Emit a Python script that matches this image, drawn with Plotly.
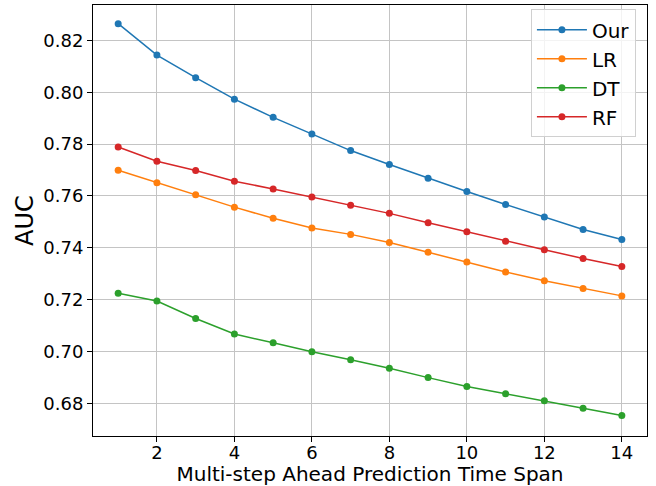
import plotly.graph_objects as go

steps = list(range(1, 15))
our = [0.8264, 0.8143, 0.8056, 0.7973, 0.7903, 0.7839, 0.7775, 0.7721, 0.7668, 0.7617, 0.7567, 0.7519, 0.7471, 0.7432]
lr = [0.7699, 0.7651, 0.7605, 0.7557, 0.7514, 0.7477, 0.7452, 0.7421, 0.7383, 0.7346, 0.7307, 0.7273, 0.7243, 0.7215]
dt = [0.7225, 0.7195, 0.7128, 0.7068, 0.7034, 0.7000, 0.6969, 0.6936, 0.6900, 0.6866, 0.6838, 0.6811, 0.6782, 0.6754]
rf = [0.7789, 0.7734, 0.7698, 0.7657, 0.7627, 0.7596, 0.7564, 0.7533, 0.7497, 0.7462, 0.7426, 0.7393, 0.7359, 0.7328]

series = [("Our", our, "#1f77b4"), ("LR", lr, "#ff7f0e"), ("DT", dt, "#2ca02c"), ("RF", rf, "#d62728")]

fig = go.Figure()
for name, vals, color in series:
    fig.add_trace(go.Scatter(
        x=steps, y=vals, name=name, mode="lines+markers",
        line=dict(color=color, width=1.5),
        marker=dict(color=color, size=7),
    ))

axis_common = dict(
    showline=True, linecolor="black", linewidth=1, mirror=True,
    ticks="outside", ticklen=5, tickcolor="black", tickwidth=1,
    showgrid=True, gridcolor="#c4c4c4", gridwidth=1,
    zeroline=False,
    tickfont=dict(size=18, color="black"),
)

fig.update_layout(
    width=656, height=486,
    margin=dict(l=93, r=9, t=5, b=50),
    paper_bgcolor="white", plot_bgcolor="white",
    font=dict(family="DejaVu Sans", color="black"),
    xaxis=dict(range=[0.35, 14.65], dtick=2, tick0=0, automargin=False, ticklabelstandoff=-5,
               title=dict(text="Multi-step Ahead Prediction Time Span", font=dict(size=20), standoff=1),
               **axis_common),
    yaxis=dict(range=[0.6675, 0.8336], dtick=0.02, tick0=0.68, tickformat=".2f", automargin=False,
               title=dict(text="AUC", font=dict(size=24), standoff=2),
               **axis_common),
    legend=dict(x=0.98, y=0.99, xanchor="right", yanchor="top", itemwidth=50,
                bgcolor="rgba(255,255,255,0.8)", bordercolor="#d0d0d0", borderwidth=1,
                font=dict(size=20, color="black")),
    showlegend=True,
)

fig.write_html("out.html", config={"displayModeBar": False},
               post_script="document.body.style.margin='0';document.body.style.padding='0';")
